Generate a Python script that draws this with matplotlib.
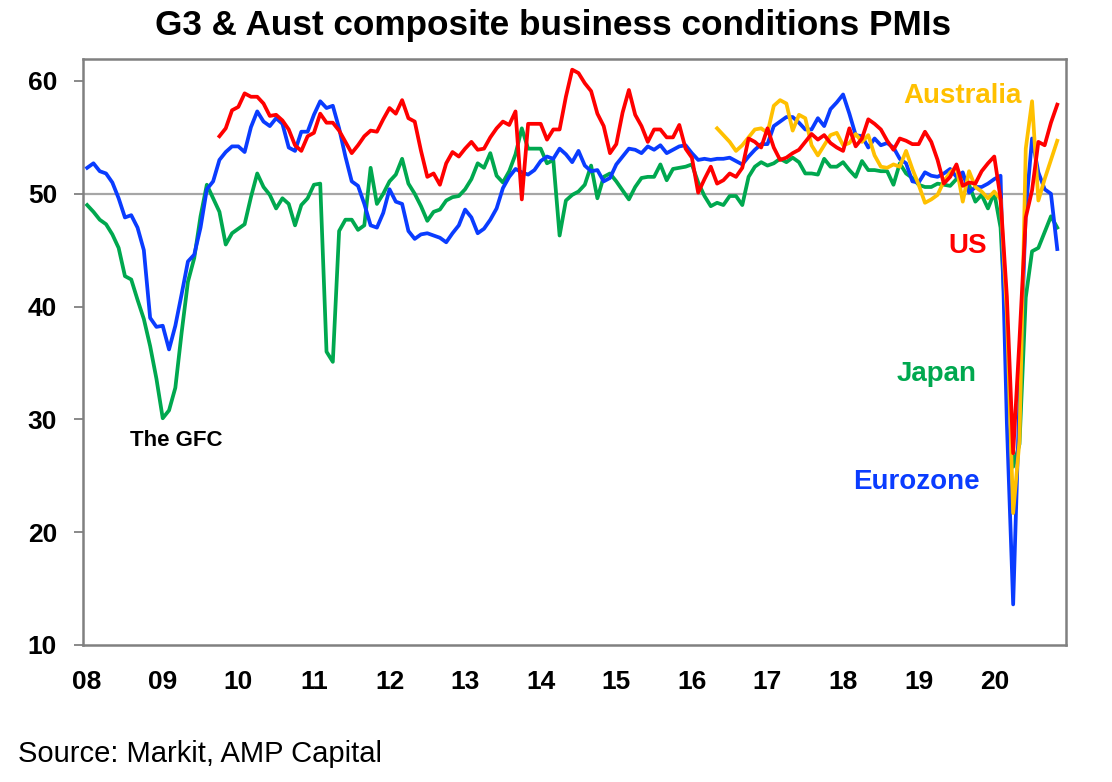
import numpy as np
import matplotlib.pyplot as plt

plt.rcParams['font.family'] = ['Liberation Sans', 'DejaVu Sans']

# monthly composite PMIs, month 0 = Jan 2008, last = Nov 2020
eurozone = [
    52.3, 52.7, 52.0, 51.8, 51.0, 49.6, 47.9, 48.1, 47.0, 45.0, 39.0, 38.2,  # 2008
    38.3, 36.2, 38.3, 41.1, 44.0, 44.6, 47.0, 50.4, 51.1, 53.0, 53.7, 54.2,  # 2009
    54.2, 53.7, 55.9, 57.3, 56.4, 56.0, 56.7, 56.2, 54.1, 53.8, 55.5, 55.5,  # 2010
    57.0, 58.2, 57.6, 57.8, 55.8, 53.3, 51.1, 50.7, 49.1, 47.2, 47.0, 48.3,  # 2011
    50.4, 49.3, 49.1, 46.7, 46.0, 46.4, 46.5, 46.3, 46.1, 45.7, 46.5, 47.2,  # 2012
    48.6, 47.9, 46.5, 46.9, 47.7, 48.7, 50.5, 51.5, 52.2, 51.9, 51.7, 52.1,  # 2013
    52.9, 53.3, 53.1, 54.0, 53.5, 52.8, 53.8, 52.5, 52.0, 52.1, 51.1, 51.4,  # 2014
    52.6, 53.3, 54.0, 53.9, 53.6, 54.2, 53.9, 54.3, 53.6, 53.9, 54.2, 54.3,  # 2015
    53.6, 53.0, 53.1, 53.0, 53.1, 53.1, 53.2, 52.9, 52.6, 53.3, 53.9, 54.4,  # 2016
    54.4, 56.0, 56.4, 56.8, 56.8, 56.3, 55.7, 55.7, 56.7, 56.0, 57.5, 58.1,  # 2017
    58.8, 57.1, 55.2, 55.1, 54.1, 54.9, 54.3, 54.5, 54.1, 53.1, 52.7, 51.1,  # 2018
    51.0, 51.9, 51.6, 51.5, 51.8, 52.2, 51.5, 51.9, 50.1, 50.6, 50.6, 50.9,  # 2019
    51.3, 51.6, 29.7, 13.6, 31.9, 48.5, 54.9, 51.9, 50.4, 50.0, 45.1,        # 2020
]

japan = [
    49.0, 48.4, 47.7, 47.3, 46.4, 45.2, 42.7, 42.4, 40.6, 38.9, 36.5, 33.6,
    30.1, 30.8, 32.8, 37.7, 42.2, 44.3, 48.0, 50.8, 49.6, 48.4, 45.5, 46.5,
    46.9, 47.3, 49.7, 51.8, 50.6, 49.9, 48.7, 49.6, 49.1, 47.2, 49.0, 49.6,
    50.8, 50.9, 36.0, 35.1, 46.7, 47.7, 47.7, 46.8, 47.2, 52.3, 49.1, 50.0,
    51.1, 51.7, 53.1, 50.9, 50.0, 48.9, 47.6, 48.4, 48.6, 49.4, 49.7, 49.8,
    50.4, 51.3, 52.7, 52.3, 53.6, 51.6, 51.0, 52.0, 53.5, 55.8, 54.0, 54.0,
    54.0, 52.7, 53.0, 46.3, 49.4, 49.9, 50.2, 50.8, 52.5, 49.6, 51.5, 51.8,
    51.1, 50.3, 49.5, 50.6, 51.4, 51.5, 51.5, 52.6, 51.2, 52.2, 52.3, 52.4,
    52.6, 51.0, 49.8, 48.9, 49.2, 49.0, 49.8, 49.8, 49.0, 51.5, 52.4, 52.8,
    52.5, 52.7, 53.1, 52.8, 53.2, 52.8, 51.8, 51.8, 51.7, 53.1, 52.4, 52.4,
    52.8, 52.1, 51.5, 52.9, 52.1, 52.1, 52.0, 52.0, 50.8, 52.7, 51.8, 51.4,
    50.8, 50.6, 50.6, 50.9, 50.8, 50.7, 51.3, 51.6, 50.8, 49.3, 49.9, 48.7,
    50.1, 47.0, 36.2, 25.8, 27.8, 40.8, 44.9, 45.2, 46.6, 48.0, 47.0,
]

us_start = 21  # Oct 2009
us = [
    55.1, 55.8, 57.4,
    57.7, 58.9, 58.6, 58.6, 58.0, 56.9, 57.0, 56.5, 55.7, 54.3, 53.8, 55.1,
    55.4, 57.1, 56.3, 56.3, 55.6, 54.6, 53.6, 54.3, 55.1, 55.6, 55.5, 56.6,
    57.6, 57.1, 58.3, 56.7, 56.4, 53.8, 51.5, 51.8, 50.8, 52.7, 53.7, 53.3,
    54.0, 54.6, 53.9, 54.0, 55.0, 55.8, 56.4, 56.1, 57.3, 49.5, 56.2, 56.2,
    56.2, 54.8, 55.7, 55.7, 58.6, 61.0, 60.7, 59.8, 59.1, 57.1, 56.0, 53.6,
    54.4, 57.2, 59.2, 57.0, 56.0, 54.6, 55.7, 55.7, 55.0, 55.0, 56.1, 54.0,
    53.2, 50.1, 51.3, 52.4, 50.9, 51.2, 51.8, 51.5, 52.3, 54.9, 54.6, 54.1,
    55.8, 54.1, 53.0, 53.2, 53.6, 53.9, 54.6, 55.3, 54.8, 55.2, 54.5, 54.1,
    53.8, 55.8, 54.2, 54.9, 56.6, 56.2, 55.7, 54.7, 53.9, 54.9, 54.7, 54.4,
    54.4, 55.5, 54.6, 53.0, 50.9, 51.5, 52.6, 50.7, 51.0, 50.9, 52.0, 52.7,
    53.3, 49.6, 40.9, 27.0, 37.0, 47.9, 50.3, 54.6, 54.3, 56.3, 57.9,
]

aus_start = 100  # May 2016
australia = [
    55.8, 55.2, 54.6, 53.8, 54.3, 55.0, 55.7, 55.8,
    55.4, 57.8, 58.3, 58.0, 55.6, 57.0, 56.7, 54.3, 53.4, 54.3, 55.2, 55.4,
    54.3, 54.5, 55.3, 54.6, 55.2, 53.4, 52.4, 52.3, 52.6, 52.4, 53.8, 52.2,
    50.8, 49.2, 49.5, 49.9, 51.1, 51.9, 52.4, 49.3, 52.0, 50.6, 50.2, 49.6,
    50.2, 49.5, 39.4, 21.7, 28.1, 54.0, 58.2, 49.4, 51.3, 53.0, 54.7,
]

year_labels = ['08', '09', '10', '11', '12', '13', '14', '15', '16', '17', '18', '19', '20']

RED = '#FF0000'
BLUE = '#0A3CFF'
GREEN = '#00A84F'
GOLD = '#FFC000'

fig = plt.figure(figsize=(11.12, 7.82), dpi=100)
ax = fig.add_axes([0.0744, 0.1752, 0.8843, 0.7494])

ax.axhline(50, color='#a6a6a6', lw=1.6, zorder=1)

lw = 2.7
ax.plot(np.arange(len(japan)), japan, color=GREEN, lw=lw, zorder=2)
ax.plot(np.arange(len(eurozone)), eurozone, color=BLUE, lw=lw, zorder=3)
ax.plot(np.arange(aus_start, aus_start + len(australia)), australia, color=GOLD, lw=lw, zorder=4)
ax.plot(np.arange(us_start, us_start + len(us)), us, color=RED, lw=lw, zorder=5)

ax.set_xlim(-0.7, 155.4)
ax.set_ylim(10, 61.95)

ax.set_xticks(np.arange(len(year_labels)) * 12)
ax.set_xticklabels(year_labels)
ax.set_yticks([10, 20, 30, 40, 50, 60])
ax.tick_params(axis='x', length=0, pad=18, labelsize=19)
ax.tick_params(axis='y', length=6.5, width=1.3, color='#808080', pad=12, labelsize=19)
for lab in ax.get_xticklabels() + ax.get_yticklabels():
    lab.set_fontweight('bold')

for s in ax.spines.values():
    s.set_color('#808080')
    s.set_linewidth(1.8)

# series labels
ax.text(139.0, 58.05, 'Australia', color=GOLD, fontsize=20, fontweight='bold', ha='center', va='baseline')
ax.text(139.8, 44.75, 'US', color=RED, fontsize=20, fontweight='bold', ha='center', va='baseline')
ax.text(134.8, 33.4, 'Japan', color=GREEN, fontsize=20, fontweight='bold', ha='center', va='baseline')
ax.text(131.7, 23.8, 'Eurozone', color=BLUE, fontsize=20, fontweight='bold', ha='center', va='baseline')
ax.text(14.2, 27.6, 'The GFC', color='black', fontsize=16, fontweight='bold', ha='center', va='baseline')

fig.text(0.497, 0.955, 'G3 & Aust composite business conditions PMIs', fontsize=25.3,
         fontweight='bold', ha='center', va='baseline')
fig.text(0.016, 0.0256, 'Source: Markit, AMP Capital', fontsize=21, ha='left', va='baseline')

fig.savefig('out.png', dpi=100)
